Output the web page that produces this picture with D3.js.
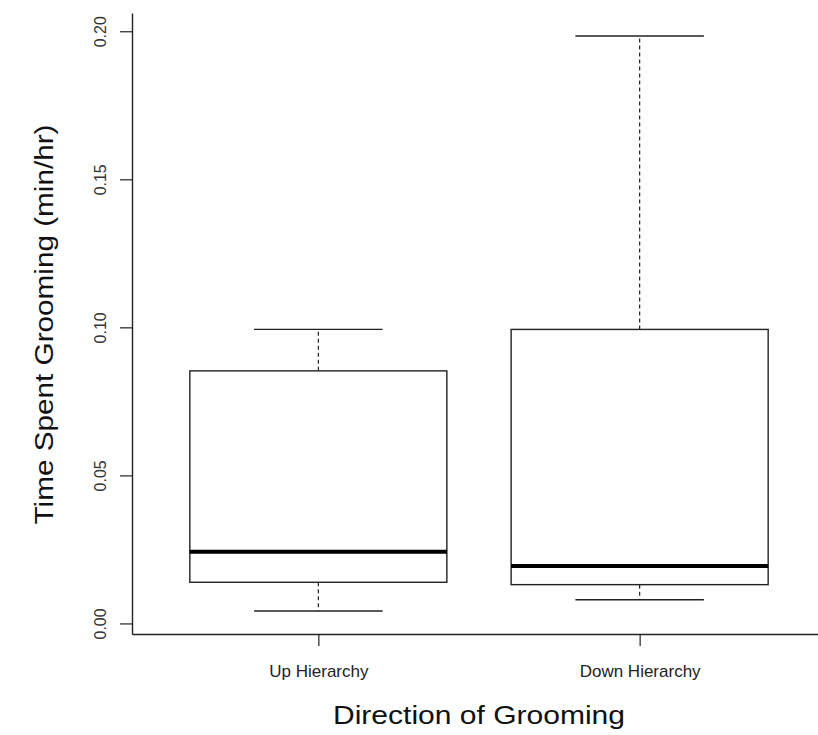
<!DOCTYPE html>
<html>
<head>
<meta charset="utf-8">
<script src="https://cdn.jsdelivr.net/npm/d3@7"></script>
<style>
  body { margin: 0; background: #fff; }
  svg { display: block; font-family: "Liberation Sans", Arial, sans-serif; }
</style>
</head>
<body>
<div id="box-plot"></div>
<script>
// groups and the five numbers of each box
var groups = ["Up Hierarchy", "Down Hierarchy"];
var whiskerLow  = [0.0042, 0.0080];
var lowerQuart  = [0.0139, 0.0131];
var medians     = [0.0242, 0.0194];
var upperQuart  = [0.0853, 0.0993];
var whiskerHigh = [0.0993, 0.1984];
var yTicks = [0, 0.05, 0.10, 0.15, 0.20];

var width = 818, height = 735;
// plot region (note: "top" is taken by window.top)
var plotLeft = 132, plotRight = 826, plotTop = 13, plotBottom = 634;

var svg = d3.select("#box-plot")
  .append("svg")
    .attr("width", width)
    .attr("height", height);

var data = groups.map(function(g, i) {
  return {group: g, pos: i + 1, lo: whiskerLow[i], q1: lowerQuart[i],
          med: medians[i], q3: upperQuart[i], hi: whiskerHigh[i]};
});

// R style: extend the range 4% on each side
var xMin = 0.5, xMax = groups.length + 0.5;
var xPad = (xMax - xMin) * 0.04;
var x = d3.scaleLinear()
  .domain([xMin - xPad, xMax + xPad])
  .range([plotLeft, plotRight]);

var yMin = d3.min(whiskerLow), yMax = d3.max(whiskerHigh);
var yPad = (yMax - yMin) * 0.04;
var y = d3.scaleLinear()
  .domain([yMin - yPad, yMax + yPad])
  .range([plotBottom, plotTop]);

var ink = "#222";

// Y axis
var yAxis = svg.append("g")
  .attr("transform", "translate(" + plotLeft + ",0)")
  .call(d3.axisLeft(y).tickValues(yTicks).tickFormat(d3.format(".2f")).tickSize(12).tickSizeOuter(0));
yAxis.select(".domain").attr("stroke", ink).attr("stroke-width", 1.4);
yAxis.selectAll(".tick line").attr("stroke", ink).attr("stroke-width", 1.2);
yAxis.selectAll(".tick text")
  .attr("x", null)
  .attr("dy", "0.35em")
  .attr("transform", "translate(-32,0) rotate(-90)")
  .style("text-anchor", "middle")
  .style("font-size", "16px")
  .attr("fill", "#333");

// X axis
var xAxis = svg.append("g")
  .attr("transform", "translate(0," + plotBottom + ")")
  .call(d3.axisBottom(x).tickValues(data.map(function(d) { return d.pos; }))
    .tickFormat(function(d) { return groups[d - 1]; }).tickSize(12).tickSizeOuter(0));
xAxis.select(".domain").attr("stroke", ink).attr("stroke-width", 1.4);
xAxis.selectAll(".tick line").attr("stroke", ink).attr("stroke-width", 1.2);
xAxis.selectAll(".tick text")
  .attr("y", 43)
  .attr("dy", null)
  .style("font-size", "17px")
  .attr("fill", "#222");

// boxes
var boxW = 0.8, capW = 0.4;
var g = svg.append("g")
  .selectAll("g")
  .data(data)
  .enter()
  .append("g");

// dashed whiskers
g.append("line")
  .attr("x1", function(d) { return x(d.pos); })
  .attr("x2", function(d) { return x(d.pos); })
  .attr("y1", function(d) { return y(d.q3); })
  .attr("y2", function(d) { return y(d.hi); })
  .attr("stroke", ink).attr("stroke-width", 1.2).attr("stroke-dasharray", "4,3");
g.append("line")
  .attr("x1", function(d) { return x(d.pos); })
  .attr("x2", function(d) { return x(d.pos); })
  .attr("y1", function(d) { return y(d.q1); })
  .attr("y2", function(d) { return y(d.lo); })
  .attr("stroke", ink).attr("stroke-width", 1.2).attr("stroke-dasharray", "4,3");

// staples
["lo", "hi"].forEach(function(k) {
  g.append("line")
    .attr("x1", function(d) { return x(d.pos - capW / 2); })
    .attr("x2", function(d) { return x(d.pos + capW / 2); })
    .attr("y1", function(d) { return y(d[k]); })
    .attr("y2", function(d) { return y(d[k]); })
    .attr("stroke", ink).attr("stroke-width", 1.4);
});

g.append("rect")
  .attr("x", function(d) { return x(d.pos - boxW / 2); })
  .attr("width", function(d) { return x(d.pos + boxW / 2) - x(d.pos - boxW / 2); })
  .attr("y", function(d) { return y(d.q3); })
  .attr("height", function(d) { return y(d.q1) - y(d.q3); })
  .attr("fill", "#fff")
  .attr("stroke", ink).attr("stroke-width", 1.4);

// medians
g.append("line")
  .attr("x1", function(d) { return x(d.pos - boxW / 2); })
  .attr("x2", function(d) { return x(d.pos + boxW / 2); })
  .attr("y1", function(d) { return y(d.med); })
  .attr("y2", function(d) { return y(d.med); })
  .attr("stroke", "#000").attr("stroke-width", 4);

// axis titles
svg.append("text")
  .attr("transform", "translate(53," + ((plotTop + plotBottom) / 2 + 1) + ") rotate(-90)")
  .attr("text-anchor", "middle")
  .attr("textLength", 400)
  .attr("lengthAdjust", "spacingAndGlyphs")
  .style("font-size", "25px")
  .attr("fill", "#111")
  .text("Time Spent Grooming (min/hr)");

svg.append("text")
  .attr("x", 479)
  .attr("y", 724)
  .attr("text-anchor", "middle")
  .attr("textLength", 292)
  .attr("lengthAdjust", "spacingAndGlyphs")
  .style("font-size", "25px")
  .attr("fill", "#111")
  .text("Direction of Grooming");
</script>
</body>
</html>
